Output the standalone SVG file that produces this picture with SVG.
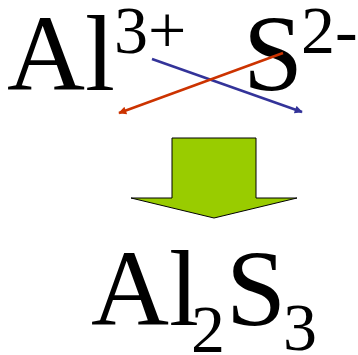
<svg xmlns="http://www.w3.org/2000/svg" width="358" height="355" viewBox="0 0 358 355">
<style>
.t{font-family:"Liberation Serif","Times New Roman",serif;fill:#000}
.big{font-size:108px}
.sup{font-size:68px}
</style>
<defs>
<marker id="ar" viewBox="0 0 10 10" refX="9" refY="5" markerWidth="10" markerHeight="8" markerUnits="userSpaceOnUse" orient="auto"><path d="M0,0 L10,5 L0,10 z" fill="#cc3300"/></marker>
<marker id="ab" viewBox="0 0 10 10" refX="9" refY="5" markerWidth="10" markerHeight="8" markerUnits="userSpaceOnUse" orient="auto"><path d="M0,0 L10,5 L0,10 z" fill="#333399"/></marker>
</defs>
<g id="al-ion"><text class="t big" x="7" y="90">Al</text><text class="t sup" x="114" y="53">3+</text></g>
<g id="s-ion"><text class="t big" x="243" y="90">S</text><text class="t sup" x="301" y="53">2-</text></g>
<g id="connectors">
<line x1="152" y1="59" x2="302" y2="112" stroke="#333399" stroke-width="2.5" marker-end="url(#ab)"/>
<line x1="283" y1="53" x2="119" y2="113" stroke="#cc3300" stroke-width="2.5" marker-end="url(#ar)"/>
</g>
<g id="down-arrow"><path d="M172,138 H256 V198 H297 L214,218 L131,198 H172 Z" fill="#99cc00" stroke="#000" stroke-width="1"/></g>
<g id="product"><text class="t big" x="91" y="325">Al</text><text class="t sup" x="191" y="352">2</text><text class="t big" x="226" y="325">S</text><text class="t sup" x="283" y="350">3</text></g>
</svg>
